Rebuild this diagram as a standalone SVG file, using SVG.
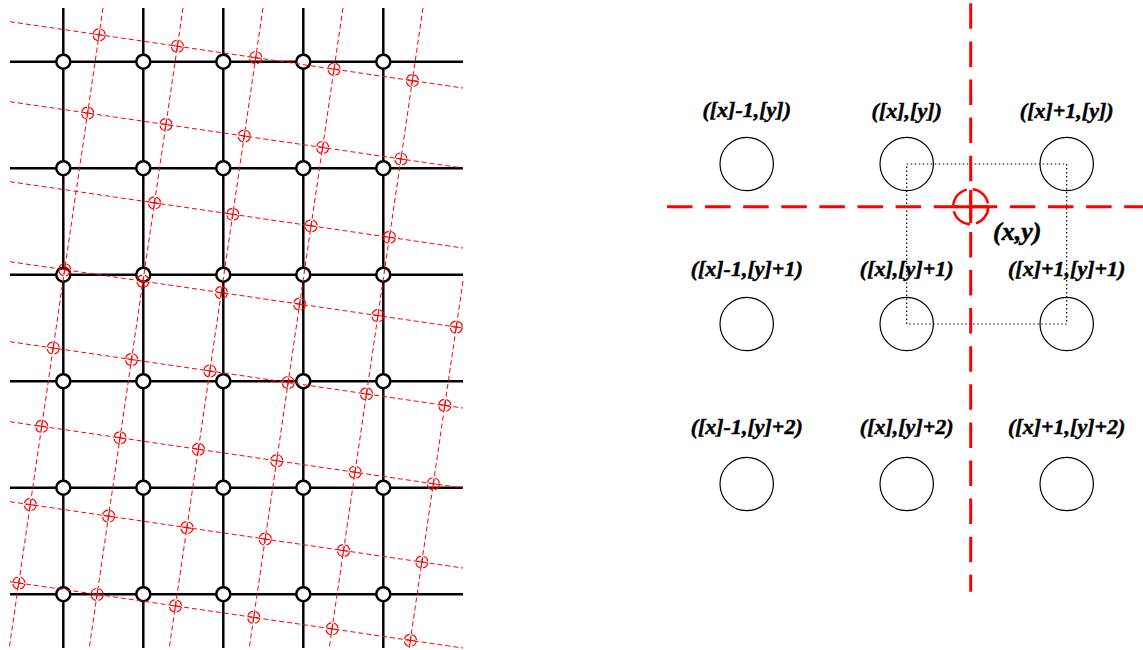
<svg xmlns="http://www.w3.org/2000/svg" xmlns:xlink="http://www.w3.org/1999/xlink" width="1143" height="650" viewBox="0 0 1143 650">
<style>
.bl{stroke:#000;stroke-width:2.5;fill:none}
.node{fill:#fff;stroke:#000;stroke-width:2.5}
.rl{stroke:#f00;stroke-width:1;stroke-dasharray:5,3;fill:none}
.rc{fill:none;stroke:#f00;stroke-width:1.2;stroke-dasharray:7,2.5}
.rx{stroke:#f00;stroke-width:1.1}
.pc{fill:none;stroke:#000;stroke-width:1.2}
.dot{fill:none;stroke:#000;stroke-width:1.2;stroke-dasharray:1.5,2.5}
.big{stroke:#f00;stroke-width:3;stroke-dasharray:25.5,12.6;fill:none}
.lab{font-family:'Liberation Serif',serif;font-weight:bold;font-style:italic;font-size:22px;text-anchor:middle;fill:#000;stroke:#000;stroke-width:0.5}
</style>
<defs>
<g id="rmark">
<circle class="rc" r="6"/>
<line class="rx" x1="-5" y1="0" x2="5" y2="0"/>
<line class="rx" x1="0" y1="-5" x2="0" y2="5"/>
</g>
<circle id="bn" class="node" r="7"/>
</defs>

<g id="black-grid">
<line class="bl" x1="63.3" y1="8" x2="63.3" y2="648"/>
<line class="bl" x1="143.3" y1="8" x2="143.3" y2="648"/>
<line class="bl" x1="223.3" y1="8" x2="223.3" y2="648"/>
<line class="bl" x1="303.3" y1="8" x2="303.3" y2="648"/>
<line class="bl" x1="383.3" y1="8" x2="383.3" y2="648"/>
<line class="bl" x1="10" y1="61.7" x2="463" y2="61.7"/>
<line class="bl" x1="10" y1="168.2" x2="463" y2="168.2"/>
<line class="bl" x1="10" y1="274.7" x2="463" y2="274.7"/>
<line class="bl" x1="10" y1="381.2" x2="463" y2="381.2"/>
<line class="bl" x1="10" y1="487.7" x2="463" y2="487.7"/>
<line class="bl" x1="10" y1="594.2" x2="463" y2="594.2"/>
</g>
<g id="black-nodes">
<use href="#bn" x="63.3" y="61.7"/><use href="#bn" x="143.3" y="61.7"/><use href="#bn" x="223.3" y="61.7"/><use href="#bn" x="303.3" y="61.7"/><use href="#bn" x="383.3" y="61.7"/>
<use href="#bn" x="63.3" y="168.2"/><use href="#bn" x="143.3" y="168.2"/><use href="#bn" x="223.3" y="168.2"/><use href="#bn" x="303.3" y="168.2"/><use href="#bn" x="383.3" y="168.2"/>
<use href="#bn" x="63.3" y="274.7"/><use href="#bn" x="143.3" y="274.7"/><use href="#bn" x="223.3" y="274.7"/><use href="#bn" x="303.3" y="274.7"/><use href="#bn" x="383.3" y="274.7"/>
<use href="#bn" x="63.3" y="381.2"/><use href="#bn" x="143.3" y="381.2"/><use href="#bn" x="223.3" y="381.2"/><use href="#bn" x="303.3" y="381.2"/><use href="#bn" x="383.3" y="381.2"/>
<use href="#bn" x="63.3" y="487.7"/><use href="#bn" x="143.3" y="487.7"/><use href="#bn" x="223.3" y="487.7"/><use href="#bn" x="303.3" y="487.7"/><use href="#bn" x="383.3" y="487.7"/>
<use href="#bn" x="63.3" y="594.2"/><use href="#bn" x="143.3" y="594.2"/><use href="#bn" x="223.3" y="594.2"/><use href="#bn" x="303.3" y="594.2"/><use href="#bn" x="383.3" y="594.2"/>
</g>

<g id="red-grid">
<line class="rl" x1="10" y1="21.7" x2="463" y2="88.06"/>
<line class="rl" x1="10" y1="101.7" x2="463" y2="168.06"/>
<line class="rl" x1="10" y1="181.7" x2="463" y2="248.06"/>
<line class="rl" x1="10" y1="261.7" x2="463" y2="328.06"/>
<line class="rl" x1="10" y1="341.7" x2="463" y2="408.06"/>
<line class="rl" x1="10" y1="421.7" x2="463" y2="488.06"/>
<line class="rl" x1="10" y1="501.7" x2="463" y2="568.06"/>
<line class="rl" x1="10" y1="581.7" x2="463" y2="648.06"/>
<line class="rl" x1="103" y1="8" x2="9.24" y2="648"/>
<line class="rl" x1="183" y1="8" x2="89.24" y2="648"/>
<line class="rl" x1="263" y1="8" x2="169.24" y2="648"/>
<line class="rl" x1="343" y1="8" x2="249.24" y2="648"/>
<line class="rl" x1="423" y1="8" x2="329.24" y2="648"/>
<line class="rl" x1="463" y1="281" x2="409.24" y2="648"/>
</g>
<g id="red-points" transform="translate(99.08,34.75) rotate(8.334)">
<use href="#rmark" x="0" y="0"/><use href="#rmark" x="79.155" y="0"/><use href="#rmark" x="158.31" y="0"/><use href="#rmark" x="237.465" y="0"/><use href="#rmark" x="316.62" y="0"/>
<use href="#rmark" x="0" y="79.155"/><use href="#rmark" x="79.155" y="79.155"/><use href="#rmark" x="158.31" y="79.155"/><use href="#rmark" x="237.465" y="79.155"/><use href="#rmark" x="316.62" y="79.155"/>
<use href="#rmark" x="79.155" y="158.31"/><use href="#rmark" x="158.31" y="158.31"/><use href="#rmark" x="237.465" y="158.31"/><use href="#rmark" x="316.62" y="158.31"/>
<use href="#rmark" x="0" y="237.465"/><use href="#rmark" x="79.155" y="237.465"/><use href="#rmark" x="158.31" y="237.465"/><use href="#rmark" x="237.465" y="237.465"/><use href="#rmark" x="316.62" y="237.465"/><use href="#rmark" x="395.775" y="237.465"/>
<use href="#rmark" x="0" y="316.62"/><use href="#rmark" x="79.155" y="316.62"/><use href="#rmark" x="158.31" y="316.62"/><use href="#rmark" x="237.465" y="316.62"/><use href="#rmark" x="316.62" y="316.62"/><use href="#rmark" x="395.775" y="316.62"/>
<use href="#rmark" x="0" y="395.775"/><use href="#rmark" x="79.155" y="395.775"/><use href="#rmark" x="158.31" y="395.775"/><use href="#rmark" x="237.465" y="395.775"/><use href="#rmark" x="316.62" y="395.775"/><use href="#rmark" x="395.775" y="395.775"/>
<use href="#rmark" x="0" y="474.93"/><use href="#rmark" x="79.155" y="474.93"/><use href="#rmark" x="158.31" y="474.93"/><use href="#rmark" x="237.465" y="474.93"/><use href="#rmark" x="316.62" y="474.93"/><use href="#rmark" x="395.775" y="474.93"/>
<use href="#rmark" x="0" y="554.085"/><use href="#rmark" x="79.155" y="554.085"/><use href="#rmark" x="158.31" y="554.085"/><use href="#rmark" x="237.465" y="554.085"/><use href="#rmark" x="316.62" y="554.085"/><use href="#rmark" x="395.775" y="554.085"/>
</g>

<g id="pixel-nodes">
<g id="p-m1-0"><circle class="pc" cx="746.7" cy="164" r="26.7"/><text class="lab" x="746.7" y="117">([x]-1,[y])</text></g>
<g id="p-0-0"><circle class="pc" cx="906.7" cy="164" r="26.7"/><text class="lab" x="906.7" y="118">([x],[y])</text></g>
<g id="p-1-0"><circle class="pc" cx="1066.7" cy="164" r="26.7"/><text class="lab" x="1066.7" y="118">([x]+1,[y])</text></g>
<g id="p-m1-1"><circle class="pc" cx="746.7" cy="324" r="26.7"/><text class="lab" x="746.7" y="276">([x]-1,[y]+1)</text></g>
<g id="p-0-1"><circle class="pc" cx="906.7" cy="324" r="26.7"/><text class="lab" x="906.7" y="276">([x],[y]+1)</text></g>
<g id="p-1-1"><circle class="pc" cx="1066.7" cy="324" r="26.7"/><text class="lab" x="1066.7" y="276">([x]+1,[y]+1)</text></g>
<g id="p-m1-2"><circle class="pc" cx="746.7" cy="484" r="26.7"/><text class="lab" x="746.7" y="434">([x]-1,[y]+2)</text></g>
<g id="p-0-2"><circle class="pc" cx="906.7" cy="484" r="26.7"/><text class="lab" x="906.7" y="434">([x],[y]+2)</text></g>
<g id="p-1-2"><circle class="pc" cx="1066.7" cy="484" r="26.7"/><text class="lab" x="1066.7" y="434">([x]+1,[y]+2)</text></g>
</g>
<g id="connectors">
<rect class="dot" x="906.7" y="164" width="160" height="160"/>
<line class="big" x1="970.7" y1="3.3" x2="970.7" y2="591.7"/>
<line class="big" x1="667" y1="206.7" x2="1143" y2="206.7"/>
</g>
<g id="point-xy">
<circle cx="970.7" cy="206.7" r="17.5" fill="none" stroke="#f00" stroke-width="2.5" stroke-dasharray="22,6"/>
<line x1="970.7" y1="190" x2="970.7" y2="223" stroke="#f00" stroke-width="3"/>
<line x1="955" y1="206.7" x2="988" y2="206.7" stroke="#f00" stroke-width="3"/>
<text x="993" y="240" font-family="'Liberation Serif', serif" font-weight="bold" font-style="italic" font-size="26" stroke="#000" stroke-width="0.5">(x,y)</text>
</g>
</svg>
